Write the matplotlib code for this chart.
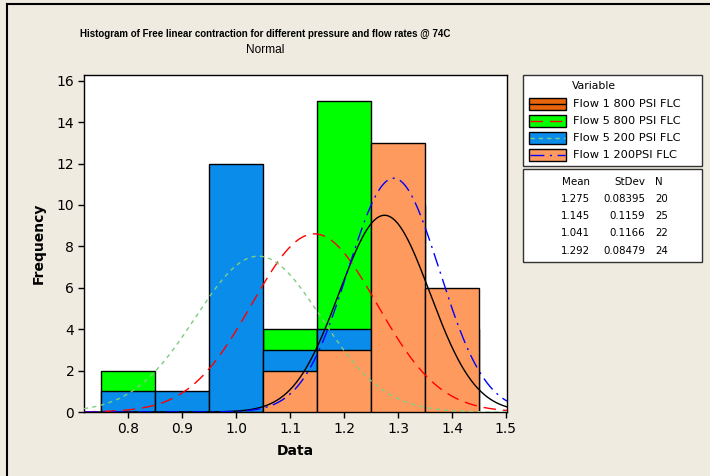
import numpy as np
import matplotlib.pyplot as plt
from matplotlib.patches import Rectangle

# histogram bins (width 0.1)
bin_centers = [0.8, 0.9, 1.0, 1.1, 1.2, 1.3, 1.4]
bin_width = 0.1

series = ['Flow 1 800 PSI FLC', 'Flow 5 800 PSI FLC', 'Flow 5 200 PSI FLC', 'Flow 1 200PSI FLC']
counts_f1_800 = [0, 0, 0, 2, 4, 10, 4]
counts_f5_800 = [2, 0, 2, 4, 15, 2, 0]
counts_f5_200 = [1, 1, 12, 3, 4, 1, 0]
counts_f1_200 = [0, 0, 0, 2, 3, 13, 6]

means = [1.275, 1.145, 1.041, 1.292]
stdevs = [0.08395, 0.1159, 0.1166, 0.08479]
ns = [20, 25, 22, 24]
mean_txt = ['1.275', '1.145', '1.041', '1.292']
stdev_txt = ['0.08395', '0.1159', '0.1166', '0.08479']

xticks = [0.8, 0.9, 1.0, 1.1, 1.2, 1.3, 1.4, 1.5]
yticks = [0, 2, 4, 6, 8, 10, 12, 14, 16]

bar_colors = ['#E8650C', '#00FF00', '#0A8CEB', '#FF9A5E']
line_colors = ['black', '#FF0000', '#80CC80', '#0000FF']
line_styles = ['-', (0, (9, 5)), (0, (3, 3)), (0, (10, 4, 1.5, 4))]

W, H = 710, 476
bg = '#EFEBE0'
fig = plt.figure(figsize=(W / 100, H / 100), dpi=100, facecolor=bg)

ax = fig.add_axes([84 / W, (H - 412) / H, (507 - 84) / W, (412 - 75) / H])
ax.set_facecolor('white')

all_counts = [counts_f1_800, counts_f5_800, counts_f5_200, counts_f1_200]
for i, c in enumerate(all_counts):
    ax.bar(bin_centers, c, width=bin_width, color=bar_colors[i],
           edgecolor='black', linewidth=1, zorder=2 + i)

xmin, xmax = 0.718, 1.502
xs = np.linspace(xmin, xmax, 400)
for i in range(4):
    pdf = np.exp(-0.5 * ((xs - means[i]) / stdevs[i]) ** 2) / (stdevs[i] * np.sqrt(2 * np.pi))
    ax.plot(xs, pdf * ns[i] * bin_width, color=line_colors[i], linestyle=line_styles[i],
            linewidth=1, zorder=10)

ax.set_xlim(xmin, xmax)
ax.set_ylim(0, 16.28)
ax.set_xticks(xticks)
ax.set_xticklabels(['%.1f' % v for v in xticks])
ax.set_yticks(yticks)
ax.tick_params(direction='out', length=4, width=1, labelsize=10, colors='black', pad=3)
for s in ax.spines.values():
    s.set_linewidth(1)
    s.set_color('black')
ax.set_xlabel('Data', fontsize=10, fontweight='bold', labelpad=6)
ax.set_ylabel('Frequency', fontsize=10, fontweight='bold', labelpad=8)

# overlay for titles, legend and stats table
ov = fig.add_axes([0, 0, 1, 1], facecolor='none')
ov.set_xlim(0, W)
ov.set_ylim(H, 0)
ov.axis('off')

ov.plot([7, W], [4, 4], color='black', lw=1.5)
ov.plot([7, 7], [4, H], color='black', lw=1.5)

ov.text(265, 34, 'Histogram of Free linear contraction for different pressure and flow rates @ 74C',
        ha='center', va='center', fontsize=7.0, fontweight='bold', family='Liberation Sans')
ov.text(265, 50, 'Normal', ha='center', va='center', fontsize=8.6, family='Liberation Sans')

ov.add_patch(Rectangle((523, 75), 179, 91, facecolor='white', edgecolor='#333333', lw=1))
ov.add_patch(Rectangle((523, 169), 179, 93, facecolor='white', edgecolor='#333333', lw=1))

ov.text(572, 86, 'Variable', ha='left', va='center', fontsize=7.8)
rows_y = [104, 121, 138, 155]
for i in range(4):
    y = rows_y[i]
    ov.add_patch(Rectangle((529, y - 6), 37, 12, facecolor=bar_colors[i],
                           edgecolor='black', lw=1))
    ov.plot([530, 565], [y, y], color=line_colors[i], linestyle=line_styles[i], lw=1)
    ov.text(573, y, series[i], ha='left', va='center', fontsize=8.2)

ov.text(590, 182, 'Mean', ha='right', va='center', fontsize=7.4)
ov.text(645, 182, 'StDev', ha='right', va='center', fontsize=7.4)
ov.text(655, 182, 'N', ha='left', va='center', fontsize=7.4)
stat_y = [199, 216, 233, 251]
for i in range(4):
    ov.text(590, stat_y[i], mean_txt[i], ha='right', va='center', fontsize=7.4)
    ov.text(645, stat_y[i], stdev_txt[i], ha='right', va='center', fontsize=7.4)
    ov.text(655, stat_y[i], str(ns[i]), ha='left', va='center', fontsize=7.4)

fig.savefig('out.png', dpi=100, facecolor=bg)
